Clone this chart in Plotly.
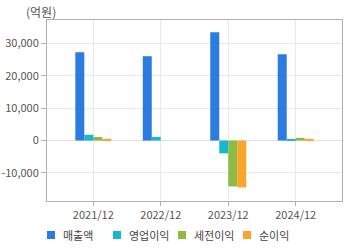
import plotly.graph_objects as go

categories = ["2021/12", "2022/12", "2023/12", "2024/12"]
series_names = ["매출액", "영업이익", "세전이익", "순이익"]
sales = [27300, 26100, 33500, 26700]
op_income = [1800, 1100, -3950, 300]
pretax = [1100, 0, -14200, 850]
net_income = [550, 0, -14500, 550]
colors = ["#2b7be0", "#14b9cf", "#8dbb45", "#fba62a"]
y_ticks = [-10000, 0, 10000, 20000, 30000]
y_tick_labels = ["-10,000", "0", "10,000", "20,000", "30,000"]

font_family = "Noto Sans CJK KR, Noto Sans, sans-serif"

W, H = 360, 248
ML, MR, MT, MB = 47, 18, 20, 47
PW, PH = W - ML - MR, H - MT - MB

fig = go.Figure()
for name, vals, c in zip(series_names, [sales, op_income, pretax, net_income], colors):
    fig.add_trace(go.Bar(x=categories, y=vals, name=name, showlegend=False,
                         marker=dict(color=c, line=dict(width=0))))

# custom legend (squares + labels) placed in pixel terms
def px_x(px):
    return (px - ML) / PW

def px_y(py):
    return (H - MB - py) / PH

legend_starts = [47, 113, 178, 243]
shapes = []
annotations = []
for name, c, sx in zip(series_names, colors, legend_starts):
    shapes.append(dict(type="rect", xref="paper", yref="paper",
                       x0=px_x(sx), x1=px_x(sx + 8), y0=px_y(239), y1=px_y(231),
                       fillcolor=c, line=dict(width=0)))
    annotations.append(dict(text=name, xref="paper", yref="paper", x=px_x(sx + 14),
                            y=px_y(235), xanchor="left", yanchor="middle", showarrow=False,
                            font=dict(size=11, color="#444")))

annotations.append(dict(text="(억원)", xref="paper", yref="paper", x=px_x(41), y=px_y(11),
                        xanchor="center", yanchor="middle", showarrow=False,
                        font=dict(size=12, color="#555")))

fig.update_layout(
    width=W, height=H,
    margin=dict(l=ML, r=MR, t=MT, b=MB, autoexpand=False),
    paper_bgcolor="white", plot_bgcolor="white",
    barmode="group", bargap=0.467, bargroupgap=0,
    font=dict(family=font_family, size=11, color="#555"),
    showlegend=False,
    xaxis=dict(type="category", range=[-0.686, 3.686], showgrid=True, gridcolor="#e8e8e8",
               showline=True, linecolor="#b0b0b0", mirror=True, ticks="outside",
               ticklen=4, tickcolor="#b0b0b0", tickfont=dict(size=11, color="#555")),
    yaxis=dict(range=[-18700, 37300], tickvals=y_ticks, ticktext=y_tick_labels,
               showgrid=True, gridcolor="#e8e8e8", zeroline=True, zerolinecolor="#e0e0e0",
               zerolinewidth=1, showline=True, linecolor="#b0b0b0", mirror=True,
               ticks="outside", ticklen=5, tickcolor="#b0b0b0",
               tickfont=dict(size=11, color="#555")),
    shapes=shapes,
    annotations=annotations,
)

fig.write_html("out.html")
